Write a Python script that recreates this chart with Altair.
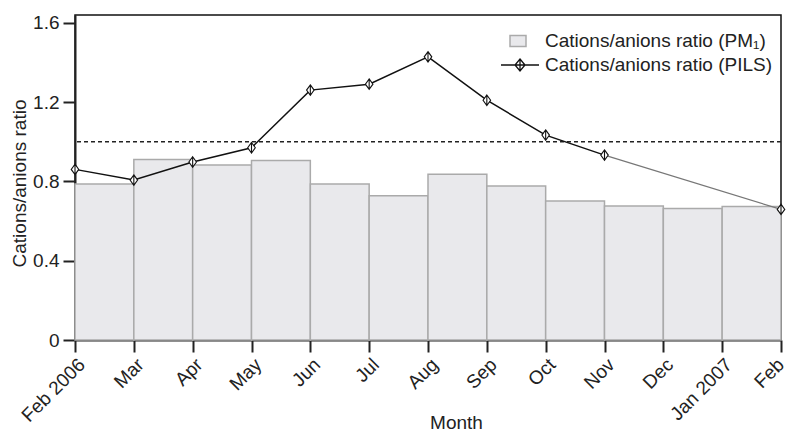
import json
import altair as alt
import pandas as pd

# ---------------- data ----------------
month_labels = ["Feb 2006", "Mar", "Apr", "May", "Jun", "Jul", "Aug",
                "Sep", "Oct", "Nov", "Dec", "Jan 2007", "Feb"]
# PM1 ratio: one bar per month interval (Feb 2006 -> Feb 2007)
pm1_ratio = [0.787, 0.911, 0.883, 0.906, 0.787, 0.728, 0.837,
             0.777, 0.701, 0.676, 0.664, 0.674]
# PILS ratio: at month ticks, no samples for Dec and Jan 2007
pils_ratio = [0.861, 0.807, 0.898, 0.970, 1.261, 1.291, 1.429,
              1.210, 1.034, 0.933, None, None, 0.659]
reference_ratio = 1.0
pm1_name = "Cations/anions ratio (PM\u2081)"
pils_name = "Cations/anions ratio (PILS)"
y_ticks = [0, 0.4, 0.8, 1.2, 1.6]

# ---------------- tables ----------------
bar_df = pd.DataFrame({
    "start": list(range(len(pm1_ratio))),
    "end": [i + 1 for i in range(len(pm1_ratio))],
    "base": [0.0] * len(pm1_ratio),
    "ratio": pm1_ratio,
    "series": [pm1_name] * len(pm1_ratio),
})
pts = [(i, v) for i, v in enumerate(pils_ratio) if v is not None]
point_df = pd.DataFrame({"idx": [p[0] for p in pts], "ratio": [p[1] for p in pts]})
# continuous part (before the gap) and the bridge across the gap
first_gap = next(i for i, v in enumerate(pils_ratio) if v is None)
main_df = point_df[point_df["idx"] < first_gap].copy()
main_df["series"] = pils_name
bridge_df = point_df[point_df["idx"] >= first_gap - 1]
rule_df = pd.DataFrame({"ratio": [reference_ratio]})

FONT = "Liberation Sans"
TXT = "#222222"
PLOT_W = 706
last_idx = len(month_labels) - 1

x_scale = alt.Scale(domain=[0, last_idx], nice=False, zero=False)
y_scale = alt.Scale(domain=[0, 1.64], nice=False)

x_axis = alt.Axis(
    values=list(range(len(month_labels))),
    labelExpr=json.dumps(month_labels) + "[datum.value]",
    labelAngle=-45, labelAlign="right", labelBaseline="top",
    labelOffset={"condition": {"test": f"datum.value == {last_idx}", "value": -7},
                 "value": 0},
    labelPadding=3, labelFlush=False, labelOverlap=False, labelBound=False,
    title="Month", titleX=381, titleY=88, titleAlign="center",
    titleBaseline="alphabetic",
)
y_axis = alt.Axis(
    values=y_ticks,
    labelExpr="datum.value == 0 ? '0' : format(datum.value, '.1f')",
    labelPadding=4,
    title="Cations/anions ratio", titleAngle=-90, titleX=-50, titleY=168,
    titleAlign="center", titleBaseline="alphabetic",
)

diamond = "M0,-1L0.72,0L0,1L-0.72,0Z M0,-1V1"

bars = alt.Chart(bar_df).mark_rect(stroke="#aaaaaa", strokeWidth=1.5).encode(
    x=alt.X("start:Q", scale=x_scale, axis=x_axis),
    x2="end:Q",
    y=alt.Y("ratio:Q", scale=y_scale, axis=y_axis),
    y2="base:Q",
    fill=alt.Fill(
        "series:N", title=None,
        scale=alt.Scale(domain=[pm1_name], range=["#e9e9ec"]),
        legend=alt.Legend(
            orient="none", legendX=432, legendY=15,
            symbolType="M-0.8,-0.55H0.8V0.55H-0.8Z", symbolSize=400,
            symbolStrokeColor="#aaaaaa", symbolStrokeWidth=1.5,
            labelOffset=16,
        ),
    ),
)

rule = alt.Chart(rule_df).mark_rule(
    color="#222222", strokeWidth=1.5, strokeDash=[4, 3]
).encode(y=alt.Y("ratio:Q", scale=y_scale))

line_main = alt.Chart(main_df).mark_line(strokeWidth=1.5).encode(
    x=alt.X("idx:Q", scale=x_scale),
    y=alt.Y("ratio:Q", scale=y_scale),
    stroke=alt.Stroke(
        "series:N", title=None,
        scale=alt.Scale(domain=[pils_name], range=["#111111"]),
        legend=alt.Legend(
            orient="none", legendX=434, legendY=39,
            symbolType="M-1.9,0H1.9M0,-0.6L0.5,0L0,0.6L-0.5,0Z M0,-0.6V0.6",
            symbolSize=400, symbolFillColor="white",
            symbolStrokeColor="#111111", symbolStrokeWidth=1.3,
            labelOffset=14,
        ),
    ),
)

line_bridge = alt.Chart(bridge_df).mark_line(color="#777777", strokeWidth=1.3).encode(
    x=alt.X("idx:Q", scale=x_scale),
    y=alt.Y("ratio:Q", scale=y_scale),
)

points = alt.Chart(point_df).mark_point(
    shape=diamond, size=110, filled=True, fill="white",
    stroke="#111111", strokeWidth=1.1, opacity=1,
).encode(
    x=alt.X("idx:Q", scale=x_scale),
    y=alt.Y("ratio:Q", scale=y_scale),
)

chart = alt.layer(bars, rule, line_bridge, line_main, points).properties(
    width=PLOT_W, height=325,
    background="white",
    autosize=alt.AutoSizeParams(type="none"),
    padding={"left": 67, "top": 7, "right": 8, "bottom": 91},
).configure_view(
    stroke="#111111", strokeWidth=1.5
).configure_axis(
    grid=False, domainColor="#222222", domainWidth=2,
    tickColor="#222222", tickWidth=2, tickSize=12,
    labelFont=FONT, labelFontSize=19, labelColor=TXT,
    titleFont=FONT, titleFontSize=19, titleColor=TXT, titleFontWeight="normal",
).configure_legend(
    labelFont=FONT, labelFontSize=19, labelColor=TXT,
    padding=0, rowPadding=0, labelLimit=400,
)

chart.save("out.html", embed_options={"renderer": "svg", "actions": False})
